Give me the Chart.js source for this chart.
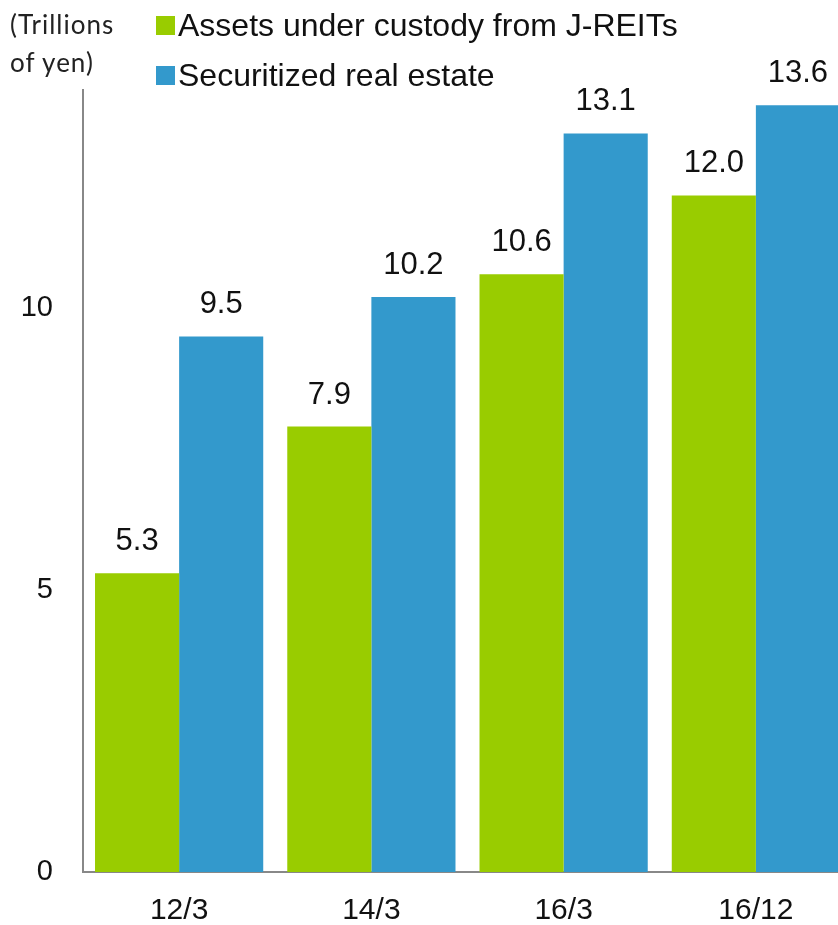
<!DOCTYPE html>
<html>
<head>
<meta charset="utf-8">
<script src="https://cdn.jsdelivr.net/npm/chart.js@4/dist/chart.umd.min.js"></script>
<style>
  html, body { margin: 0; padding: 0; background: #fff; overflow: hidden; }
  #wrap { position: relative; width: 852px; height: 925px; }
  #unidad { position: absolute; left: 10px; top: 5px; font-family: Lato, "Open Sans", sans-serif; font-size: 26px; letter-spacing: 1px; line-height: 38px; color: #222; }
  #leyenda { position: absolute; left: 156px; top: 0px; font-family: "Liberation Sans", Arial, sans-serif; font-size: 32px; color: #111; }
  #leyenda div { display: flex; align-items: center; height: 50px; }
  #leyenda span.caja { display: inline-block; width: 19px; height: 19px; margin-right: 3px; }
</style>
</head>
<body>
<div id="wrap">
  <canvas id="grafico" width="852" height="925"></canvas>
  <div id="unidad">(Trillions<br>of yen)</div>
  <div id="leyenda"></div>
</div>
<script>
const periodos = ["12/3", "14/3", "16/3", "16/12"];
const custodiaJREIT = [5.3, 7.9, 10.6, 12.0];
const inmobiliarioTitulizado = [9.5, 10.2, 13.1, 13.6];
const nombresSeries = ["Assets under custody from J-REITs", "Securitized real estate"];
const marcasEjeY = [0, 5, 10];

const colores = ["#99CC00", "#3399CC"];

const etiquetasValores = {
    id: 'etiquetasValores',
    afterDatasetsDraw(chart) {
        const ctx = chart.ctx;
        ctx.save();
        ctx.font = '31px "Liberation Sans", Arial, sans-serif';
        ctx.fillStyle = '#111';
        ctx.textAlign = 'center';
        ctx.textBaseline = 'bottom';
        chart.data.datasets.forEach((ds, i) => {
            chart.getDatasetMeta(i).data.forEach((bar, j) => {
                ctx.fillText(ds.data[j].toFixed(1), bar.x, bar.y - 16);
            });
        });
        ctx.restore();
    }
};

const ctx = document.getElementById('grafico');

new Chart(ctx, {
    type: 'bar',
    data: {
        labels: periodos,
        datasets: [{
            label: nombresSeries[0],
            data: custodiaJREIT,
            backgroundColor: colores[0],
            borderWidth: 0
        }, {
            label: nombresSeries[1],
            data: inmobiliarioTitulizado,
            backgroundColor: colores[1],
            borderWidth: 0
        }]
    },
    options: {
        responsive: false,
        animation: false,
        layout: { padding: { top: 90, right: 0, left: 0, bottom: 0 } },
        datasets: { bar: { categoryPercentage: 0.875, barPercentage: 1 } },
        plugins: {
            legend: { display: false },
            tooltip: { enabled: false }
        },
        scales: {
            x: {
                grid: { display: false },
                border: { color: '#888', width: 2 },
                ticks: {
                    color: '#111',
                    padding: 13,
                    font: { family: '"Liberation Sans", Arial, sans-serif', size: 30 }
                },
                afterFit(scale) { scale.height = 53; }
            },
            y: {
                min: 0,
                max: 13.87,
                grid: { display: false },
                border: { color: '#888', width: 2 },
                afterBuildTicks(scale) { scale.ticks = marcasEjeY.map(v => ({ value: v })); },
                ticks: {
                    color: '#111',
                    padding: 22,
                    font: { family: '"Liberation Sans", Arial, sans-serif', size: 29 }
                },
                afterFit(scale) { scale.width = 83; }
            }
        }
    },
    plugins: [etiquetasValores]
});

const leyenda = document.getElementById('leyenda');
nombresSeries.forEach((nombre, i) => {
    const fila = document.createElement('div');
    fila.innerHTML = '<span class="caja" style="background:' + colores[i] + '"></span>' + nombre;
    leyenda.appendChild(fila);
});
</script>
</body>
</html>
